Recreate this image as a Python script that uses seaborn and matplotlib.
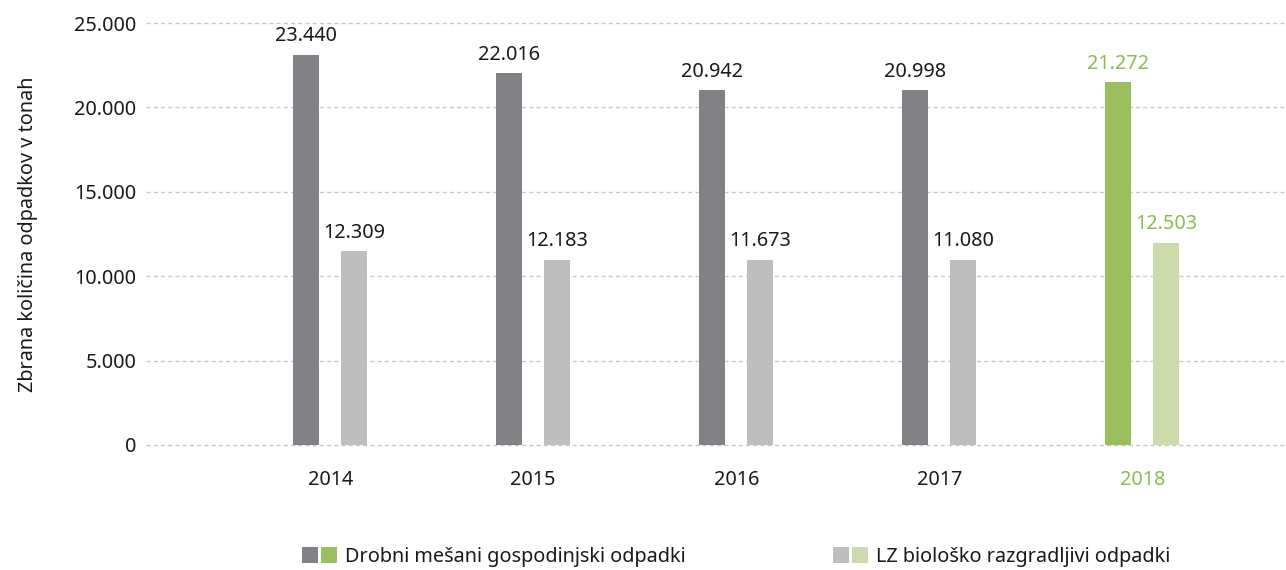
import numpy as np
import pandas as pd
import seaborn as sns
import matplotlib.pyplot as plt
from matplotlib.patches import Patch
from matplotlib.legend_handler import HandlerTuple

# ---- data ----
years = ['2014', '2015', '2016', '2017', '2018']
mixed_values = [23120, 22010, 21040, 21040, 21480]
bio_values = [11500, 10970, 10970, 10970, 11990]
mixed_labels = ['23.440', '22.016', '20.942', '20.998', '21.272']
bio_labels = ['12.309', '12.183', '11.673', '11.080', '12.503']
series_names = ['Drobni mešani gospodinjski odpadki', 'LZ biološko razgradljivi odpadki']
y_ticks = [0, 5000, 10000, 15000, 20000, 25000]
y_tick_labels = ['0', '5.000', '10.000', '15.000', '20.000', '25.000']
y_label = 'Zbrana količina odpadkov v tonah'

# ---- style ----
DARK = '#808285'
LIGHT = '#bcbec0'
GREEN = '#9bbe5e'
LGREEN = '#ccdbab'
GREEN_TXT = '#8dbb4f'
TXT = '#1a1a1a'
FS = 14.3

sns.set_theme(style='white')
plt.rcParams['font.family'] = ['Noto Sans', 'DejaVu Sans']

W, H = 1286, 570
fig = plt.figure(figsize=(W / 100, H / 100), dpi=100)
ax = fig.add_axes([146 / W, (H - 447.5) / H, 1140 / W, (447.5 - 20.5) / H])

df = pd.DataFrame({
    'year': years * 2,
    'value': mixed_values + bio_values,
    'series': [series_names[0]] * len(years) + [series_names[1]] * len(years),
})

sns.barplot(data=df, x='year', y='value', hue='series', hue_order=series_names,
            order=years, palette=[DARK, LIGHT], saturation=1, width=0.473,
            gap=0.459, legend=False, ax=ax, errorbar=None)

# recolor 2018
c_mixed, c_bio = ax.containers[0], ax.containers[1]
c_mixed.patches[-1].set_facecolor(GREEN)
c_bio.patches[-1].set_facecolor(LGREEN)
for p in list(c_mixed.patches) + list(c_bio.patches):
    p.set_edgecolor('none')

# value labels
for cont, labs in ((c_mixed, mixed_labels), (c_bio, bio_labels)):
    texts = ax.bar_label(cont, labels=labs, padding=6, fontsize=FS, color=TXT)
    texts[-1].set_color(GREEN_TXT)
    for t in texts:
        t.set_clip_on(False)

ax.set_ylim(-150, 25150)
ax.set_xlim(-0.907, 4.708)
ax.set_yticks(y_ticks)
ax.set_yticklabels(y_tick_labels)
ax.tick_params(axis='both', length=0, labelsize=FS, colors=TXT)
ax.tick_params(axis='y', pad=7)
ax.tick_params(axis='x', pad=16)
ax.get_xticklabels()[-1].set_color(GREEN_TXT)
ax.set_xlabel('')
ax.set_ylabel(y_label, fontsize=FS, color=TXT)
ax.yaxis.set_label_coords(-0.095, 0.5)

ax.yaxis.grid(True, linestyle=(0, (3, 2.2)), color='#c8c8c8', linewidth=1)
ax.xaxis.grid(False)
ax.set_axisbelow(True)
sns.despine(ax=ax, left=True, bottom=True)

# legend
common = dict(loc='center left', frameon=False, borderpad=0, borderaxespad=0,
              handlelength=35 / (FS * 100 / 72), handleheight=16 / (FS * 100 / 72),
              handletextpad=8 / (FS * 100 / 72),
              handler_map={tuple: HandlerTuple(ndivide=None, pad=3 / (FS * 100 / 72))},
              fontsize=FS, labelcolor=TXT)
h1 = (Patch(facecolor=DARK, edgecolor='none'), Patch(facecolor=GREEN, edgecolor='none'))
h2 = (Patch(facecolor=LIGHT, edgecolor='none'), Patch(facecolor=LGREEN, edgecolor='none'))
fig.legend([h1], [series_names[0]], bbox_to_anchor=(302 / W, 1 - 557 / H), **common)
fig.legend([h2], [series_names[1]], bbox_to_anchor=(833 / W, 1 - 557 / H), **common)

fig.savefig('out.png', dpi=100)
